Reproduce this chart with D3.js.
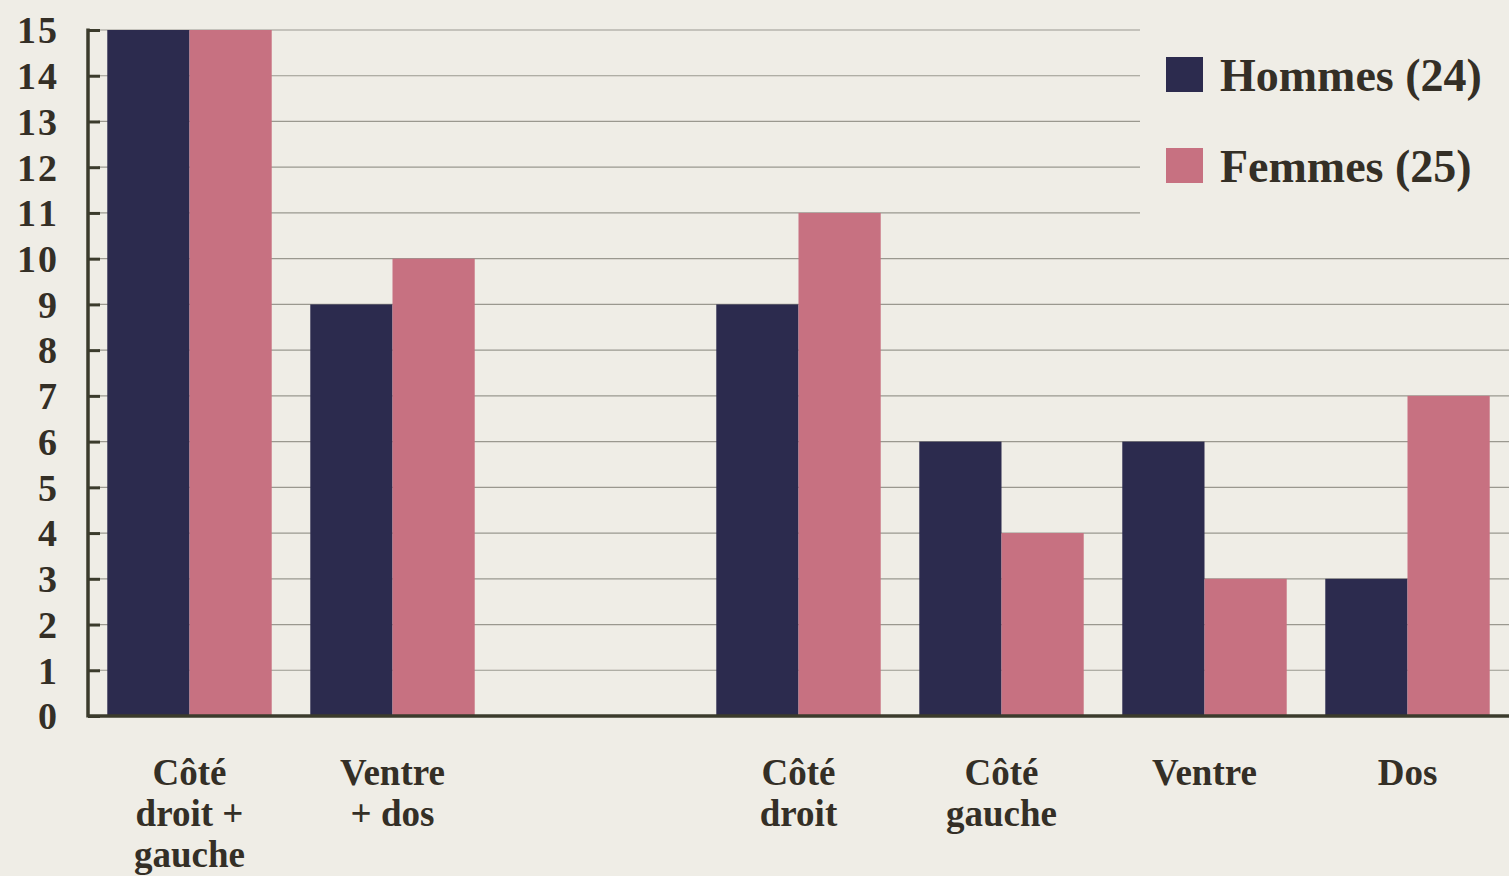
<!DOCTYPE html>
<html><head><meta charset="utf-8">
<script src="https://cdn.jsdelivr.net/npm/d3@7"></script>
<style>
html,body{margin:0;padding:0;background:#efede6;}
svg{display:block;}
text{font-family:"Liberation Serif","Times New Roman",serif;font-weight:bold;fill:#342f26;}
</style></head>
<body>
<svg id="c" width="1509" height="876"></svg>
<script>
const categories = [["Côté","droit +","gauche"],["Ventre","+ dos"],[],["Côté","droit"],["Côté","gauche"],["Ventre"],["Dos"]];
const hommes = [15, 9, null, 9, 6, 6, 3];
const femmes = [15, 10, null, 11, 4, 3, 7];
const seriesNames = ["Hommes (24)", "Femmes (25)"];
const yTicks = [0,1,2,3,4,5,6,7,8,9,10,11,12,13,14,15];
const colors = ["#2c2b4e", "#c77181"];

const svg = d3.select("#c");
const x0 = 88, x1 = 1509, yTop = 30, yBase = 716;
const idx = categories.map((d,i)=>i);
const x = d3.scaleBand().domain(idx).range([x0, x1]).paddingInner(0.19).paddingOuter(0.095);
const xs = d3.scaleBand().domain([0,1]).range([0, x.bandwidth()]).padding(0);
const y = d3.scaleLinear().domain([0,15]).range([yBase, yTop]);

// gridlines
svg.append("g").selectAll("line").data(yTicks.filter(t=>t>0)).join("line")
  .attr("x1", x0+10).attr("x2", t => t >= 11 ? 1140 : x1)
  .attr("y1", t=>y(t)).attr("y2", t=>y(t))
  .attr("stroke", "#9a988f").attr("stroke-width", 1.2);

// bars
const series = [hommes, femmes];
series.forEach((vals, s) => {
  svg.append("g").selectAll("rect").data(vals.map((v,i)=>({v,i})).filter(d=>d.v!=null)).join("rect")
    .attr("x", d => x(d.i) + xs(s))
    .attr("width", xs.bandwidth())
    .attr("y", d => y(d.v))
    .attr("height", d => yBase - y(d.v))
    .attr("fill", colors[s]);
});

// y axis
const yAxis = d3.axisRight(y).tickValues(yTicks).tickSize(12).tickFormat("");
const ga = svg.append("g").attr("transform", `translate(${x0},0)`).call(yAxis);
ga.select(".domain").remove();
ga.selectAll(".tick line").attr("stroke", "#3b3b2c").attr("stroke-width", 3);
svg.append("line").attr("x1", x0).attr("x2", x0).attr("y1", yTop-1.5).attr("y2", yBase+1.5)
  .attr("stroke", "#3b3b2c").attr("stroke-width", 3.5);
svg.append("line").attr("x1", x0).attr("x2", x1).attr("y1", yBase).attr("y2", yBase)
  .attr("stroke", "#3b3b2c").attr("stroke-width", 3.5);

svg.append("g").selectAll("text").data(yTicks).join("text")
  .attr("x", 57).attr("y", t=>y(t)).attr("dy", "0.35em")
  .attr("text-anchor", "end").attr("font-size", 38).attr("textLength", t => t>=10 ? 40 : null).text(t=>t);

// category labels
const cl = svg.append("g").selectAll("text").data(categories.map((c,i)=>({c,i}))).join("text")
  .attr("text-anchor", "middle").attr("font-size", 37)
  .attr("x", d => x(d.i) + x.bandwidth()/2).attr("y", 785);
cl.selectAll("tspan").data(d => d.c.map((l,k)=>({l,k,xx:x(d.i)+x.bandwidth()/2}))).join("tspan")
  .attr("x", d=>d.xx).attr("y", d => 785 + d.k*41).text(d=>d.l);

// legend
const lg = svg.append("g").selectAll("g").data(seriesNames).join("g")
  .attr("transform", (d,i)=>`translate(1166,${57 + i*91})`);
lg.append("rect").attr("width", 37).attr("height", 35).attr("fill", (d,i)=>colors[i]);
lg.append("text").attr("x", 54).attr("y", 34).attr("font-size", 46).text(d=>d);
</script>
</body></html>
